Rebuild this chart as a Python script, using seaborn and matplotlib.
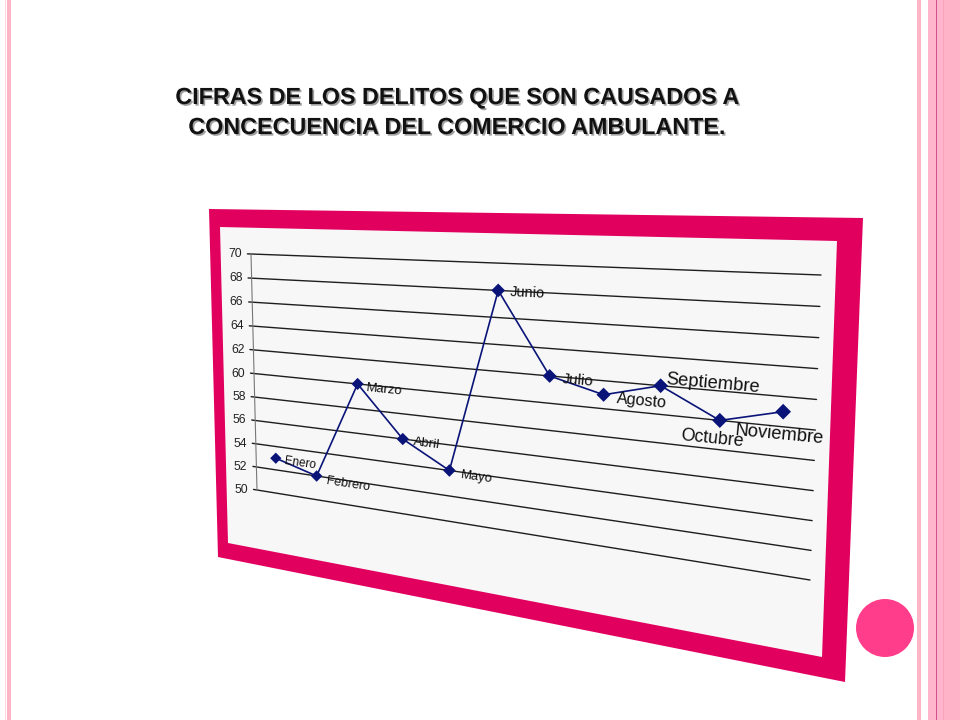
import numpy as np
import pandas as pd
import matplotlib
matplotlib.use("Agg")
import matplotlib.pyplot as plt
import matplotlib.transforms as mtransforms
import matplotlib.patheffects as pe
from matplotlib import font_manager
from matplotlib.patches import Polygon, Circle
import seaborn as sns

# ---------------- data ----------------
meses = ["Enero", "Febrero", "Marzo", "Abril", "Mayo", "Junio",
         "Julio", "Agosto", "Septiembre", "Octubre", "Noviembre"]
valores = [53, 52, 60, 56, 54, 68, 62, 61, 62, 60, 61]
y_ticks = [50, 52, 54, 56, 58, 60, 62, 64, 66, 68, 70]
titulo = ["CIFRAS DE LOS DELITOS QUE SON CAUSADOS A",
          "CONCECUENCIA DEL COMERCIO AMBULANTE."]

# ---------------- style / layout ----------------
label_sizes = [7.8, 8.2, 8.6, 8.8, 8.6, 9.5, 10.0, 10.6, 12.0, 11.6, 12.0]
label_offsets = [(9, 3), (10, 5), (9, 4), (11, 3), (11, 5), (12, 2),
                 (12, 3), (13, 4), (5, -6), (-8, 18), (-4, 23)]
label_ha = ["left"] * 8 + ["left", "center", "center"]
NAVY = "#0A1478"
PINK = "#E2005F"

sns.set_style("white")
plt.rcParams["font.family"] = ["Liberation Sans", "DejaVu Sans"]

installed = {f.name for f in font_manager.fontManager.ttflist}
if "Liberation Sans Narrow" in installed:
    chart_family = ["Liberation Sans Narrow", "Liberation Sans", "DejaVu Sans"]
    fscale = 1.25
else:
    chart_family = ["Liberation Sans", "DejaVu Sans"]
    fscale = 1.1

W, H = 960, 720
fig = plt.figure(figsize=(W / 100, H / 100), dpi=100)
fig.patch.set_facecolor("white")
ax = fig.add_axes([0, 0, 1, 1])
ax.set_xlim(0, W)
ax.set_ylim(H, 0)
ax.axis("off")

# ---- perspective mapping of the chart plane onto the slide (pixel space) ----
corners_src = [(0, 0), (0, 1), (1, 0), (1, 1)]
corners_dst = [(257, 490), (251, 254), (810, 580), (821, 275)]


def homography(src, dst):
    A, b = [], []
    for (u, v), (X, Y) in zip(src, dst):
        A.append([u, v, 1, 0, 0, 0, -u * X, -v * X]); b.append(X)
        A.append([0, 0, 0, u, v, 1, -u * Y, -v * Y]); b.append(Y)
    h = np.linalg.solve(np.array(A, float), np.array(b, float))
    return np.append(h, 1.0).reshape(3, 3)


HM = homography(corners_src, corners_dst)
x_lo, x_hi = -0.5, len(meses) - 0.5
y_lo, y_hi = min(y_ticks), max(y_ticks)


class Persp(mtransforms.Transform):
    input_dims = 2
    output_dims = 2
    is_separable = False
    has_inverse = False

    def transform_non_affine(self, values):
        values = np.asarray(values, dtype=float).reshape(-1, 2)
        u = (values[:, 0] - x_lo) / (x_hi - x_lo)
        v = (values[:, 1] - y_lo) / (y_hi - y_lo)
        w = HM[2, 0] * u + HM[2, 1] * v + HM[2, 2]
        X = (HM[0, 0] * u + HM[0, 1] * v + HM[0, 2]) / w
        Y = (HM[1, 0] * u + HM[1, 1] * v + HM[1, 2]) / w
        return np.column_stack([X, Y])


persp = Persp()
T = persp + ax.transData

# ---------------- slide decoration ----------------
for x0, x1, c in [(5, 6, "#FFD3DF"), (7.3, 11, "#FFB5C8"),
                  (917.3, 921.3, "#FFB5C8"), (928, 935.7, "#FFB5CB"),
                  (935.7, 937, "#D4508A"), (937, 943, "#FFB5CB"),
                  (943, 944.3, "#F7A3BE"), (944.3, 960, "#FFB3C9")]:
    ax.axvspan(x0, x1, color=c, lw=0, zorder=0)

ax.add_patch(Circle((885, 628), 29, color="#FF3D8B", lw=0, zorder=1))

# title with soft shadow
for i, line in enumerate(titulo):
    ax.text(458, 104 + 30 * i, line, ha="center", va="baseline",
            fontsize=16.8, fontweight="bold", color="#111111", zorder=5,
            path_effects=[pe.withSimplePatchShadow(offset=(1.2, -1.2),
                                                   shadow_rgbFace="#8a8a8a",
                                                   alpha=0.8)])

# chart frame
ax.add_patch(Polygon([(209, 209), (863, 218), (845, 682), (218, 557)],
                     closed=True, color=PINK, lw=0, zorder=2))
ax.add_patch(Polygon([(220, 227), (837, 241), (822, 657), (228, 543)],
                     closed=True, color="#F7F7F7", lw=0, zorder=3))

# ---------------- chart ----------------
for t in y_ticks:
    ax.plot([x_lo - 0.09, x_hi], [t, t], transform=T, color="#1e1e1e",
            lw=1.0, zorder=4)
    ax.annotate(str(t), xy=(x_lo, t), xycoords=T, xytext=(-9, 0),
                textcoords="offset pixels", ha="right", va="center",
                fontsize=7.9 * fscale, family=chart_family,
                color="#222222", zorder=6)
ax.plot([x_lo, x_lo], [y_lo, y_hi], transform=T, color="#777777", lw=0.8,
        zorder=4)

df = pd.DataFrame({"mes": meses, "valor": valores,
                   "pos": np.arange(len(meses))})

# local perspective scale for markers / label rotation
pix = persp.transform(np.column_stack([df["pos"], df["valor"]]))
up = persp.transform(np.column_stack([df["pos"], df["valor"] + 1]))
left_ref = np.linalg.norm(persp.transform([[x_lo, 61]]) - persp.transform([[x_lo, 60]]))
scale = np.linalg.norm(pix - up, axis=1) / left_ref
right = persp.transform(np.column_stack([df["pos"] + 0.5, df["valor"]]))
leftp = persp.transform(np.column_stack([df["pos"] - 0.5, df["valor"]]))
ang = -np.degrees(np.arctan2(right[:, 1] - leftp[:, 1], right[:, 0] - leftp[:, 0]))

sns.lineplot(data=df, x="pos", y="valor", ax=ax, color=NAVY, lw=1.2,
             sort=False, legend=False, transform=T, zorder=7)
sns.scatterplot(data=df, x="pos", y="valor", ax=ax, color=NAVY, marker="D",
                s=(5.8 * scale ** 1.3) ** 2, linewidth=0, legend=False,
                transform=T, zorder=8)

for i, (m, v) in enumerate(zip(meses, valores)):
    dx, dy = label_offsets[i]
    ax.annotate(m, xy=(i, v), xycoords=T, xytext=(dx, -dy),
                textcoords="offset pixels", ha=label_ha[i], va="center",
                rotation=ang[i], rotation_mode="anchor",
                fontsize=label_sizes[i] * fscale, family=chart_family,
                color="#111111", zorder=9)

ax.set_xlim(0, W)
ax.set_ylim(H, 0)
ax.axis("off")
fig.savefig("out.png", dpi=100)
